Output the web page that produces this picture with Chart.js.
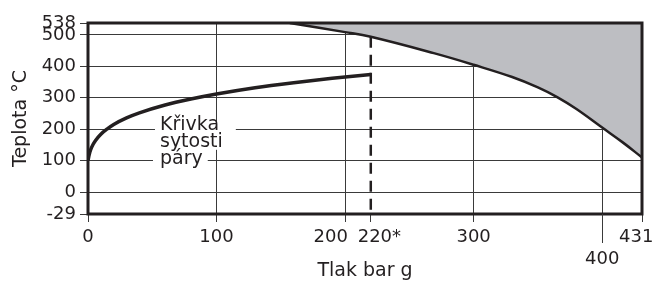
<!DOCTYPE html>
<html>
<head>
<meta charset="utf-8">
<script src="https://cdn.jsdelivr.net/npm/chart.js@4.4.1/dist/chart.umd.min.js"></script>
<style>
html, body { margin: 0; padding: 0; background: #fff; }
</style>
</head>
<body>
<canvas id="myChart" width="655" height="282"></canvas>
<script>
// Křivka sytosti páry (bar g -> °C)
const satPressure = [0, 1, 2, 4, 6, 10, 15, 20, 30, 40, 60, 80, 100, 130, 160, 190, 220];
const satTemp = [100, 120, 134, 152, 165, 184, 201, 215, 236, 252, 277, 296, 312, 332, 348, 362, 374];

// horní mez, šedá oblast nad ní
const limitPressure = [157, 200, 220, 269, 300, 330, 350, 365, 380, 400, 416, 431];
const limitTemp = [538, 509, 494, 442, 405, 366, 333, 302, 264, 205, 158, 110];

// spodek osy y (popsán jako -29)
const yMin = -70;
const yMax = 538;

const dashPressure = [220, 220];
const dashTemp = [494, yMin];

const xTickValues = [0, 100, 200, 220, 300, 400, 431];
const xTickLabels = ['0', '100', '200     ', '   220*', '300', ['', '400'], '431  '];
const yTickValues = [yMin, 0, 100, 200, 300, 400, 500, 538];
const yTickLabels = ['-29', '0', '100', '200', '300', '400', '500', '538'];
const curveLabel = ['Křivka', 'sytosti', 'páry'];

const ink = '#231f20';
const gridColor = '#3a3a3a';
const font = '"DejaVu Sans", sans-serif';

const toPoints = (xs, ys) => xs.map((x, i) => ({x: x, y: ys[i]}));

const framePlugin = {
    id: 'frame',
    beforeDatasetsDraw(chart) {
        const ctx = chart.ctx;
        const xs = chart.scales.x, ys = chart.scales.y;
        const lx = xs.getPixelForValue(56);
        const b1 = ys.getPixelForValue(198);
        const step = 17;
        ctx.save();
        ctx.font = '19px ' + font;
        const w = curveLabel.map(t => ctx.measureText(t).width);
        ctx.fillStyle = '#fff';
        ctx.fillRect(lx - 5, b1 - 5, Math.max(w[0], w[1]) + 18, step + 8);
        ctx.fillRect(lx - 7, b1 + 2 * step - 11, w[2] + 12, 15);
        ctx.fillStyle = ink;
        ctx.textBaseline = 'alphabetic';
        ctx.textAlign = 'left';
        curveLabel.forEach((t, i) => ctx.fillText(t, lx, b1 + i * step));
        ctx.restore();
    },
    afterDatasetsDraw(chart) {
        const ctx = chart.ctx;
        const a = chart.chartArea;
        const xs = chart.scales.x;
        ctx.save();
        ctx.strokeStyle = ink;
        ctx.lineWidth = 3;
        ctx.strokeRect(a.left, a.top, a.right - a.left, a.bottom - a.top);
        // delší značka u 400
        const px = Math.round(xs.getPixelForValue(400)) + 0.5;
        ctx.lineWidth = 1;
        ctx.strokeStyle = gridColor;
        ctx.beginPath();
        ctx.moveTo(px, a.bottom);
        ctx.lineTo(px, a.bottom + 29);
        ctx.stroke();
        ctx.restore();
    }
};

new Chart(document.getElementById('myChart').getContext('2d'), {
    type: 'line',
    data: {
        datasets: [
            {
                data: toPoints(satPressure, satTemp),
                borderColor: ink,
                borderWidth: 3.5,
                pointRadius: 0,
                cubicInterpolationMode: 'monotone',
                fill: false,
            },
            {
                data: toPoints(dashPressure, dashTemp),
                borderColor: ink,
                borderWidth: 2.5,
                borderDash: [11, 7],
                pointRadius: 0,
                fill: false,
            },
            {
                data: toPoints(limitPressure, limitTemp),
                borderColor: ink,
                borderWidth: 2.5,
                backgroundColor: '#bdbec2',
                pointRadius: 0,
                tension: 0.4,
                fill: 'end',
            },
        ],
    },
    options: {
        responsive: false,
        animation: false,
        devicePixelRatio: 1,
        layout: { padding: { left: 0, top: 23, right: 13, bottom: 0 } },
        plugins: { legend: { display: false }, tooltip: { enabled: false } },
        scales: {
            x: {
                type: 'linear',
                min: 0,
                max: 431,
                afterBuildTicks: s => { s.ticks = xTickValues.map(v => ({value: v})); },
                afterFit: s => { s.height = 68; s.paddingLeft = 0; s.paddingRight = 0; },
                border: { display: false },
                grid: {
                    color: c => (c.tick && c.tick.value === 220) ? 'rgba(0,0,0,0)' : gridColor,
                    tickColor: gridColor,
                    lineWidth: 1,
                    tickLength: 8,
                },
                ticks: {
                    autoSkip: false,
                    maxRotation: 0,
                    padding: 5,
                    color: ink,
                    font: { family: font, size: 18 },
                    callback: (v, i) => xTickLabels[i],
                },
                title: {
                    display: true,
                    text: 'Tlak bar g',
                    color: ink,
                    font: { family: font, size: 19 },
                    padding: { top: 0, bottom: 0 },
                },
            },
            y: {
                type: 'linear',
                min: yMin,
                max: yMax,
                afterBuildTicks: s => { s.ticks = yTickValues.map(v => ({value: v})); },
                afterFit: s => { s.width = 88; s.paddingTop = 0; s.paddingBottom = 0; },
                border: { display: false },
                grid: {
                    color: gridColor,
                    tickColor: gridColor,
                    lineWidth: 1,
                    tickLength: 8,
                },
                ticks: {
                    autoSkip: false,
                    padding: 4,
                    color: ink,
                    font: { family: font, size: 18 },
                    callback: (v, i) => yTickLabels[i],
                },
                title: {
                    display: true,
                    text: 'Teplota °C',
                    color: ink,
                    font: { family: font, size: 19 },
                    padding: { top: 10, bottom: 0 },
                },
            },
        },
    },
    plugins: [framePlugin],
});
</script>
</body>
</html>
